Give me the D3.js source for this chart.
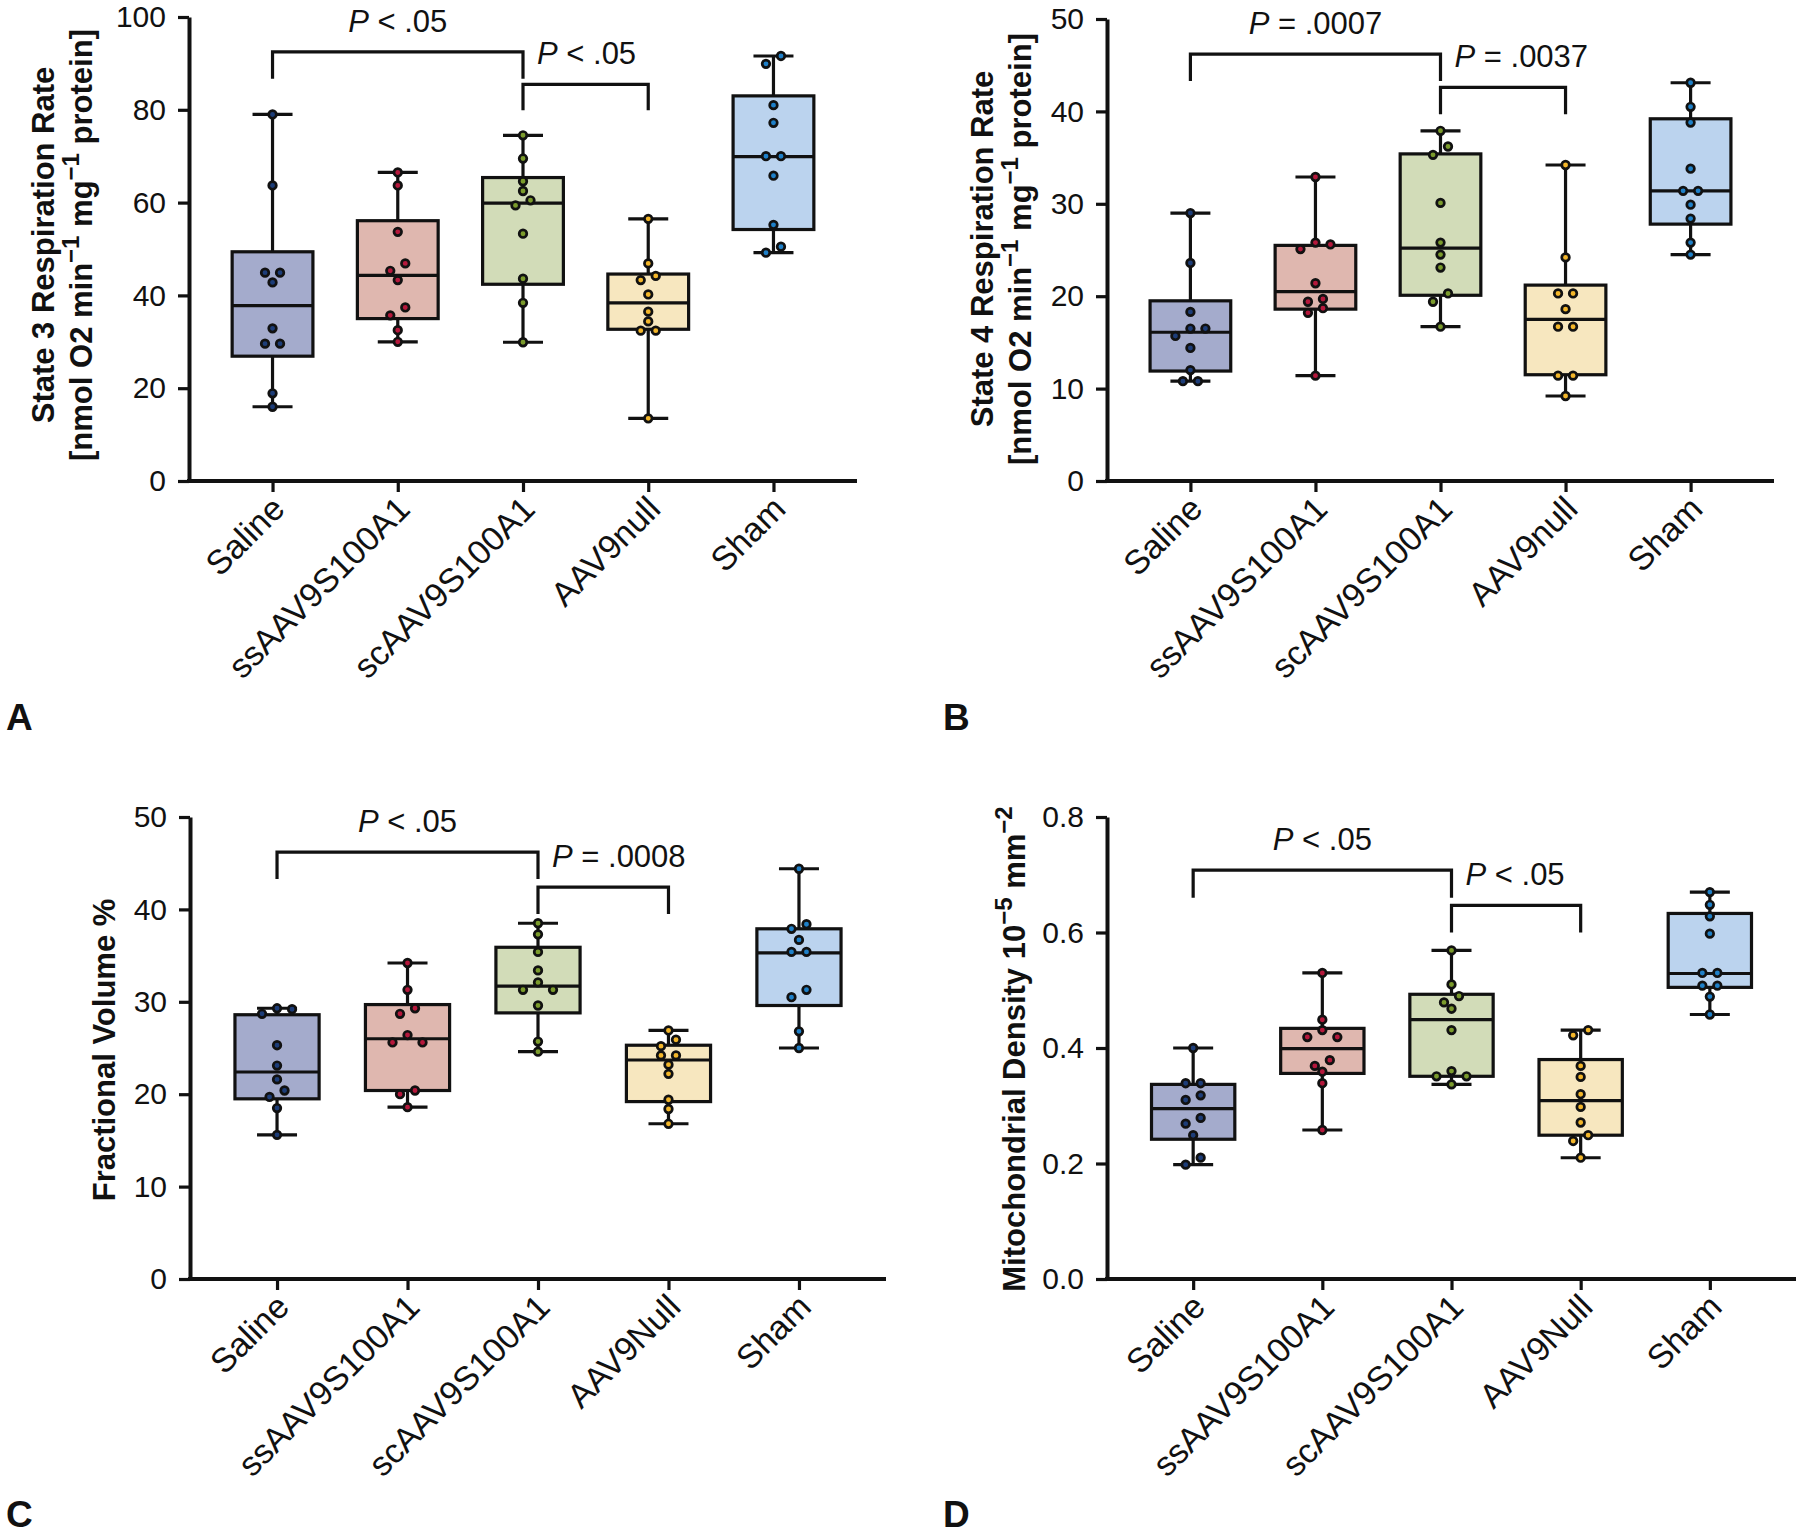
<!DOCTYPE html>
<html><head><meta charset="utf-8">
<script src="https://cdn.jsdelivr.net/npm/d3@7"></script>
<style>
body{margin:0;background:#fff}
svg{display:block}
text{font-family:"Liberation Sans",Arial,Helvetica,sans-serif;fill:#111}
</style>
</head><body>
<svg id="chart" width="1800" height="1537"></svg>
<script>
// ---------------- DATA ----------------
const groupsAB = ["Saline", "ssAAV9S100A1", "scAAV9S100A1", "AAV9null", "Sham"];
const groupsCD = ["Saline", "ssAAV9S100A1", "scAAV9S100A1", "AAV9Null", "Sham"];

// Panel A: State 3 respiration rate
const state3Points = [
  [79.0, 63.7, 44.9, 44.9, 42.8, 32.9, 29.6, 29.6, 18.9, 16.0],
  [66.5, 63.7, 53.7, 46.9, 45.3, 43.3, 37.4, 35.7, 32.5, 30.0],
  [74.5, 69.5, 64.6, 62.5, 60.5, 59.4, 53.3, 43.6, 38.4, 29.9],
  [56.5, 46.9, 44.2, 43.3, 40.2, 36.5, 34.4, 32.4, 32.4, 13.5],
  [91.6, 89.9, 81.0, 77.2, 70.0, 70.0, 65.8, 55.2, 50.5, 49.2]
];
const state3Q1 = [26.9, 35.0, 42.4, 32.7, 54.2];
const state3Median = [37.8, 44.3, 59.9, 38.4, 69.9];
const state3Q3 = [49.4, 56.1, 65.4, 44.6, 83.0];
const state3Ticks = [0, 20, 40, 60, 80, 100];
const state3Brackets = [
  {from: 0, to: 2, top: 92.5, leg: 86.7, rel: "< .05"},
  {from: 2, to: 3, top: 85.5, leg: 79.9, rel: "< .05"}
];

// Panel B: State 4 respiration rate
const state4Points = [
  [29.0, 23.6, 18.3, 16.5, 16.5, 15.7, 14.4, 12.0, 10.8, 10.8],
  [32.9, 25.8, 25.6, 25.1, 21.4, 19.7, 19.4, 18.7, 18.2, 11.4],
  [37.9, 36.2, 35.3, 30.1, 25.8, 24.5, 23.1, 20.3, 19.4, 16.7],
  [34.2, 24.2, 20.3, 20.3, 18.6, 16.7, 16.7, 11.4, 11.4, 9.2],
  [43.1, 40.5, 38.8, 33.8, 31.4, 31.4, 29.9, 28.4, 25.8, 24.5]
];
const state4Q1 = [11.9, 18.6, 20.1, 11.5, 27.8];
const state4Median = [16.1, 20.5, 25.2, 17.5, 31.4];
const state4Q3 = [19.5, 25.5, 35.4, 21.2, 39.2];
const state4Ticks = [0, 10, 20, 30, 40, 50];
const state4Brackets = [
  {from: 0, to: 2, top: 46.2, leg: 43.3, rel: "= .0007"},
  {from: 2, to: 3, top: 42.6, leg: 39.7, rel: "= .0037"}
];

// Panel C: Fractional volume %
const volumePoints = [
  [29.3, 29.2, 28.7, 25.3, 23.1, 21.6, 20.4, 19.7, 18.5, 15.6],
  [34.2, 31.3, 29.3, 28.7, 26.4, 25.6, 25.6, 20.4, 20.0, 18.6],
  [38.5, 37.3, 35.4, 33.4, 32.1, 31.3, 31.3, 29.6, 25.7, 24.6],
  [26.9, 25.9, 25.2, 24.2, 24.2, 23.2, 22.2, 19.4, 18.4, 16.8],
  [44.4, 38.4, 37.9, 36.7, 35.4, 35.4, 31.3, 30.5, 26.8, 25.0]
];
const volumeQ1 = [19.5, 20.4, 28.8, 19.2, 29.6];
const volumeMedian = [22.4, 26.0, 31.7, 23.7, 35.3];
const volumeQ3 = [28.6, 29.7, 35.9, 25.3, 37.9];
const volumeTicks = [0, 10, 20, 30, 40, 50];
const volumeBrackets = [
  {from: 0, to: 2, top: 46.2, leg: 43.3, rel: "< .05"},
  {from: 2, to: 3, top: 42.4, leg: 39.5, rel: "= .0008"}
];

// Panel D: Mitochondrial density
const densityPoints = [
  [0.400, 0.339, 0.339, 0.318, 0.310, 0.279, 0.269, 0.249, 0.210, 0.198],
  [0.530, 0.449, 0.431, 0.419, 0.419, 0.379, 0.369, 0.359, 0.339, 0.258],
  [0.569, 0.510, 0.490, 0.479, 0.468, 0.431, 0.360, 0.351, 0.351, 0.337],
  [0.431, 0.422, 0.369, 0.350, 0.320, 0.298, 0.271, 0.249, 0.239, 0.210],
  [0.670, 0.648, 0.628, 0.598, 0.530, 0.530, 0.508, 0.508, 0.489, 0.458]
];
const densityQ1 = [0.242, 0.356, 0.351, 0.249, 0.505];
const densityMedian = [0.295, 0.399, 0.449, 0.309, 0.529];
const densityQ3 = [0.337, 0.434, 0.493, 0.380, 0.633];
const densityTicks = [0.0, 0.2, 0.4, 0.6, 0.8];
const densityBrackets = [
  {from: 0, to: 2, top: 0.708, leg: 0.660, rel: "< .05"},
  {from: 2, to: 3, top: 0.647, leg: 0.600, rel: "< .05"}
];

// ---------------- STYLE ----------------
const boxFills = ["#a4abcc", "#dfb7af", "#d2dcb8", "#f7e7bf", "#bbd3ee"];
const dotFills = ["#1d3d78", "#b5183c", "#7b9b2c", "#f3b62a", "#1f80c8"];

const panels = [
  {letter: "A", lx: 6, ly: 730, left: 189, right: 857, top: 17, bottom: 481,
   max: 100, ticks: state3Ticks, fmt: d3.format("d"), groups: groupsAB,
   points: state3Points, q1: state3Q1, med: state3Median, q3: state3Q3, brackets: state3Brackets,
   titleCy: 245, titleX: [54, 92],
   title: [[{t: "State 3 Respiration Rate"}],
           [{t: "[nmol O2 min"}, {t: "−1", sup: true}, {t: " mg"}, {t: "−1", sup: true}, {t: " protein]"}]]},
  {letter: "B", lx: 943, ly: 730, left: 1107, right: 1774, top: 19, bottom: 481,
   max: 50, ticks: state4Ticks, fmt: d3.format("d"), groups: groupsAB,
   points: state4Points, q1: state4Q1, med: state4Median, q3: state4Q3, brackets: state4Brackets,
   titleCy: 249, titleX: [993, 1031],
   title: [[{t: "State 4 Respiration Rate"}],
           [{t: "[nmol O2 min"}, {t: "−1", sup: true}, {t: " mg"}, {t: "−1", sup: true}, {t: " protein]"}]]},
  {letter: "C", lx: 6, ly: 1527, left: 190, right: 886, top: 817, bottom: 1279,
   max: 50, ticks: volumeTicks, fmt: d3.format("d"), groups: groupsCD,
   points: volumePoints, q1: volumeQ1, med: volumeMedian, q3: volumeQ3, brackets: volumeBrackets,
   titleCy: 1050, titleX: [115],
   title: [[{t: "Fractional Volume %"}]]},
  {letter: "D", lx: 943, ly: 1527, left: 1107, right: 1796, top: 817, bottom: 1279,
   max: 0.8, ticks: densityTicks, fmt: d3.format(".1f"), groups: groupsCD,
   points: densityPoints, q1: densityQ1, med: densityMedian, q3: densityQ3, brackets: densityBrackets,
   titleCy: 1049, titleX: [1025],
   title: [[{t: "Mitochondrial Density 10"}, {t: "−5", sup: true}, {t: " mm"}, {t: "−2", sup: true}]]}
];

const svg = d3.select("#chart");
const INK = "#111";

function richText(sel, segs, size, supSize) {
  let shifted = false;
  segs.forEach(s => {
    const ts = sel.append("tspan").text(s.t);
    if (s.sup) {
      ts.attr("font-size", supSize).attr("dy", shifted ? 0 : -size * 0.42);
      shifted = true;
    } else if (shifted) {
      ts.attr("dy", size * 0.42); shifted = false;
    }
  });
}

function swarm(values, y, threshold, spacing) {
  const sorted = values.slice().sort((a, b) => b - a);
  const rows = [];
  let cur = null;
  for (const v of sorted) {
    if (cur && Math.abs(y(cur[0]) - y(v)) < threshold) cur.push(v);
    else { cur = [v]; rows.push(cur); }
  }
  const out = [];
  rows.forEach(row => {
    const n = row.length;
    const pos = d3.range(n).map(k => (k - (n - 1) / 2) * spacing)
      .sort((a, b) => Math.abs(a) - Math.abs(b) || b - a);
    row.forEach((v, k) => out.push({v, dx: pos[k]}));
  });
  return out;
}

panels.forEach(P => {
  const g = svg.append("g");
  const x = d3.scalePoint().domain(P.groups).range([P.left, P.right]).padding(0.667);
  const y = d3.scaleLinear().domain([0, P.max]).range([P.bottom, P.top]);
  const step = x.step();
  const bw = step * 0.645, cap = 40;

  // y axis
  const ya = g.append("g").attr("transform", `translate(${P.left},0)`)
    .call(d3.axisLeft(y).tickValues(P.ticks).tickFormat(P.fmt).tickSize(11).tickSizeOuter(0).tickPadding(12));
  ya.select(".domain").attr("stroke", INK).attr("stroke-width", 4);
  ya.selectAll(".tick line").attr("stroke", INK).attr("stroke-width", 3.2);
  ya.selectAll(".tick text").attr("font-size", 30).attr("fill", INK)
    .attr("font-family", '"Liberation Sans",Arial,sans-serif');

  // x axis
  const xa = g.append("g").attr("transform", `translate(0,${P.bottom})`)
    .call(d3.axisBottom(x).tickSize(11).tickSizeOuter(0).tickFormat(""));
  xa.select(".domain").attr("stroke", INK).attr("stroke-width", 4)
    .attr("d", `M${P.left - 2},0H${P.right}`);
  xa.selectAll(".tick line").attr("stroke", INK).attr("stroke-width", 3.2);

  // x labels rotated
  g.selectAll("text.xl").data(P.groups).join("text").attr("class", "xl")
    .attr("transform", d => `translate(${x(d) + 14},${P.bottom + 30}) rotate(-45)`)
    .attr("text-anchor", "end").attr("font-size", 34).text(d => d);

  // y title
  P.title.forEach((line, li) => {
    const t = g.append("text")
      .attr("transform", `translate(${P.titleX[li]},${P.titleCy}) rotate(-90)`)
      .attr("text-anchor", "middle").attr("font-size", 31).attr("font-weight", "bold");
    richText(t, line, 31, 24);
  });

  // boxes
  P.groups.forEach((grp, i) => {
    const cx = x(grp);
    const vals = P.points[i];
    const [mn, mx] = d3.extent(vals);
    const gg = g.append("g");
    gg.append("line").attr("x1", cx).attr("x2", cx).attr("y1", y(mx)).attr("y2", y(P.q3[i]))
      .attr("stroke", INK).attr("stroke-width", 3.2);
    gg.append("line").attr("x1", cx).attr("x2", cx).attr("y1", y(P.q1[i])).attr("y2", y(mn))
      .attr("stroke", INK).attr("stroke-width", 3.2);
    [mn, mx].forEach(v => gg.append("line").attr("x1", cx - cap / 2).attr("x2", cx + cap / 2)
      .attr("y1", y(v)).attr("y2", y(v)).attr("stroke", INK).attr("stroke-width", 3.2));
    gg.append("rect").attr("x", cx - bw / 2).attr("width", bw)
      .attr("y", y(P.q3[i])).attr("height", y(P.q1[i]) - y(P.q3[i]))
      .attr("fill", boxFills[i]).attr("stroke", INK).attr("stroke-width", 3.2);
    gg.append("line").attr("x1", cx - bw / 2).attr("x2", cx + bw / 2)
      .attr("y1", y(P.med[i])).attr("y2", y(P.med[i])).attr("stroke", INK).attr("stroke-width", 3.2);
    gg.selectAll("circle").data(swarm(vals, y, 8.8, 15)).join("circle")
      .attr("cx", d => cx + d.dx).attr("cy", d => y(d.v)).attr("r", 3.8)
      .attr("fill", dotFills[i]).attr("stroke", INK).attr("stroke-width", 2.7);
  });

  // brackets
  P.brackets.forEach((b, bi) => {
    const x1 = x(P.groups[b.from]), x2 = x(P.groups[b.to]);
    g.append("path").attr("d", `M${x1},${y(b.leg)}V${y(b.top)}H${x2}V${y(b.leg)}`)
      .attr("fill", "none").attr("stroke", INK).attr("stroke-width", 3.2);
    const t = g.append("text")
      .attr("x", bi === 0 ? (x1 + x2) / 2 : x1 + 14).attr("y", y(b.top) - 20)
      .attr("text-anchor", bi === 0 ? "middle" : "start").attr("font-size", 31);
    t.append("tspan").attr("font-style", "italic").text("P");
    t.append("tspan").text(" " + b.rel);
  });

  // panel letter
  svg.append("text").attr("x", P.lx).attr("y", P.ly).attr("font-size", 37)
    .attr("font-weight", "bold").text(P.letter);
});
</script>
</body></html>
